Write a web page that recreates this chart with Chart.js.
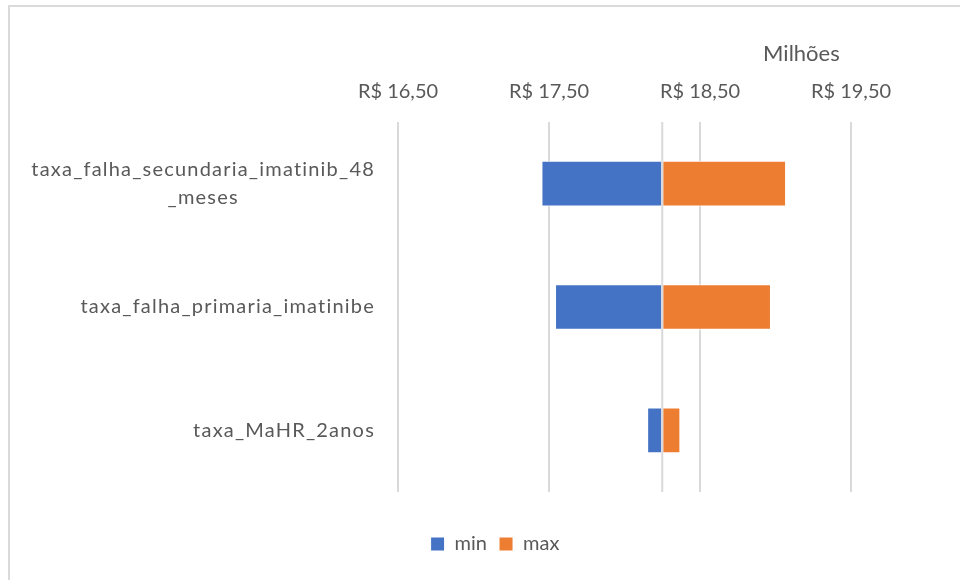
<!DOCTYPE html>
<html>
<head>
<meta charset="utf-8">
<script src="https://cdn.jsdelivr.net/npm/chart.js@4"></script>
<style>
  html, body { margin: 0; padding: 0; background: #fff; }
  #wrap { width: 960px; height: 580px; position: relative; }
</style>
</head>
<body>
<div id="wrap"><canvas id="tornado"></canvas></div>
<script>
  const labels = [
    ["taxa_falha_secundaria_imatinib_48", "_meses"],
    "taxa_falha_primaria_imatinibe",
    "taxa_MaHR_2anos",
  ];
  const baseValue = 18.25;
  const minValues = [17.45, 17.54, 18.15];
  const maxValues = [19.07, 18.97, 18.37];
  const xTicks = [16.5, 17.5, 18.5, 19.5];

  const textColor = "#595959";
  const gridColor = "#D9D9D9";
  const fontFamily = "Lato, 'Open Sans', sans-serif";

  // frame round the chart, like the Excel chart border
  const framePlugin = {
    id: "frame",
    beforeDraw(chart) {
      const c = chart.ctx;
      c.save();
      c.fillStyle = "#fff";
      c.fillRect(0, 0, chart.width, chart.height);
      c.strokeStyle = "#DADADA";
      c.lineWidth = 2;
      c.beginPath();
      c.moveTo(9, chart.height);
      c.lineTo(9, 6);
      c.lineTo(chart.width, 6);
      c.stroke();
      c.restore();
    },
  };

  // category labels: block right aligned, lines centred on each other
  const catLabels = {
    id: "catLabels",
    afterDraw(chart) {
      const c = chart.ctx;
      const y = chart.scales.y;
      c.save();
      c.font = "20px " + fontFamily;
      c.letterSpacing = "1.2px";
      c.fillStyle = textColor;
      c.textAlign = "center";
      c.textBaseline = "middle";
      labels.forEach((lab, i) => {
        const lines = Array.isArray(lab) ? lab : [lab];
        const widest = Math.max(...lines.map((l) => c.measureText(l).width));
        const cx = 375 - widest / 2;
        const cy = y.getPixelForValue(i);
        lines.forEach((l, k) => {
          c.fillText(l, cx, cy + (k - (lines.length - 1) / 2) * 28);
        });
      });
      c.restore();
    },
  };

  // vertical axis line where the category axis crosses (base value)
  const baseLine = {
    id: "baseLine",
    afterDatasetsDraw(chart) {
      const c = chart.ctx;
      const x = chart.scales.x.getPixelForValue(baseValue);
      const a = chart.chartArea;
      c.save();
      c.strokeStyle = gridColor;
      c.lineWidth = 2;
      c.beginPath();
      c.moveTo(x, a.top);
      c.lineTo(x, a.bottom);
      c.stroke();
      c.restore();
    },
  };

  new Chart(document.getElementById("tornado"), {
    type: "bar",
    data: {
      labels: labels,
      datasets: [
        {
          label: "min",
          data: minValues.map((v) => [v, baseValue]),
          backgroundColor: "#4472C4",
          borderColor: "#ffffff",
          borderWidth: 1,
          borderSkipped: false,
          grouped: false,
          barPercentage: 0.37,
          categoryPercentage: 1,
        },
        {
          label: "max",
          data: maxValues.map((v) => [baseValue, v]),
          backgroundColor: "#ED7D31",
          borderColor: "#ffffff",
          borderWidth: 1,
          borderSkipped: false,
          grouped: false,
          barPercentage: 0.37,
          categoryPercentage: 1,
        },
      ],
    },
    options: {
      indexAxis: "y",
      responsive: true,
      maintainAspectRatio: false,
      animation: false,
      layout: { padding: { left: 139, right: 109, top: 30, bottom: 16 } },
      plugins: {
        legend: {
          position: "bottom",
          title: {
            display: true,
            text: "",
            font: { size: 10, lineHeight: 1 },
            padding: { top: 0, bottom: 20 },
          },
          labels: {
            color: textColor,
            font: { family: fontFamily, size: 20 },
            boxWidth: 14,
            boxHeight: 14,
            padding: 12,
          },
        },
        tooltip: { enabled: false },
      },
      scales: {
        x: {
          position: "top",
          min: 16.5,
          max: 19.5,
          afterBuildTicks: (scale) => {
            scale.ticks = xTicks.map((v) => ({ value: v }));
          },
          afterFit: (scale) => {
            scale.height = 92;
          },
          ticks: {
            color: textColor,
            font: { family: fontFamily, size: 20 },
            padding: 18,
            maxRotation: 0,
            callback: (v) => "R$ " + Number(v).toFixed(2).replace(".", ","),
          },
          title: {
            display: true,
            text: "Milhões  ",
            align: "end",
            color: textColor,
            font: { family: fontFamily, size: 22, lineHeight: 1.2 },
            padding: { top: 11, bottom: 0 },
          },
          grid: { color: gridColor, lineWidth: 2, drawTicks: false },
          border: { display: false },
        },
        y: {
          afterFit: (scale) => {
            scale.width = 259;
          },
          ticks: { display: false },
          grid: { display: false },
          border: { display: false },
        },
      },
    },
    plugins: [framePlugin, catLabels, baseLine],
  });
</script>
</body>
</html>
